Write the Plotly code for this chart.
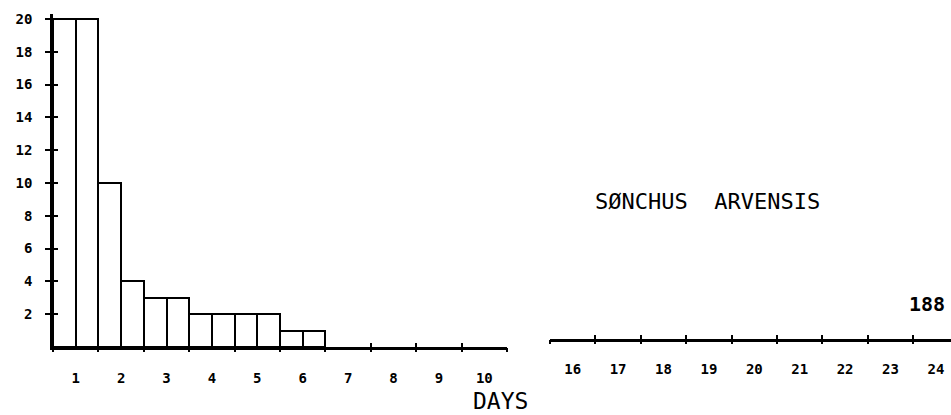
import plotly.graph_objects as go

# ---- data ----
half_day_counts = [20, 20, 10, 4, 3, 3, 2, 2, 2, 2, 1, 1]   # successive half-day periods from day 1
left_days = [1, 2, 3, 4, 5, 6, 7, 8, 9, 10]
right_days = [16, 17, 18, 19, 20, 21, 22, 23, 24]
right_counts = [0, 0, 0, 0, 0, 0, 0, 0, 0]
y_ticks = [2, 4, 6, 8, 10, 12, 14, 16, 18, 20]
species_label = "SØNCHUS  ARVENSIS"
total_label = "188"
x_title = "DAYS"

# ---- geometry (pixels of the 951x415 page) ----
W, H = 951, 415
ML, MT, MB, MR = 53, 14, 68, 0
PW = W - ML - MR
PH = H - MT - MB
left_end_px, right_start_px = 507, 550
D1 = (left_end_px - ML) / PW
D2 = (right_start_px - ML) / PW
day_px = (left_end_px - ML) / len(left_days)
right_hi = right_days[0] - 0.5 + (W - right_start_px) / day_px
Y_TOP = 20.3
shift = 8 / PH

half = 0.5
bar_x = [left_days[0] - 0.5 + half * (i + 0.5) for i in range(len(half_day_counts))]
left_bounds = [d - 0.5 for d in left_days] + [left_days[-1] + 0.5]
right_bounds = [d - 0.5 for d in right_days] + [right_days[-1] + 0.5]

tick_font = dict(family="DejaVu Sans Mono", size=14, color="black", weight="bold")

fig = go.Figure()
fig.add_trace(go.Bar(
    x=bar_x, y=half_day_counts, width=half,
    marker=dict(color="white", line=dict(color="black", width=2)),
    xaxis="x", yaxis="y", hoverinfo="x+y", showlegend=False,
))
fig.add_trace(go.Bar(
    x=right_days, y=right_counts,
    marker=dict(color="white", line=dict(color="black", width=0)),
    xaxis="x2", yaxis="y2", hoverinfo="skip", showlegend=False,
))
# empty traces so that the overlay tick axes are drawn
for xa, ya in [("x3", "y"), ("x4", "y"), ("x5", "y2"), ("x6", "y2"), ("x", "y3")]:
    fig.add_trace(go.Scatter(x=[None], y=[None], xaxis=xa, yaxis=ya, mode="markers",
                             hoverinfo="skip", showlegend=False))

common = dict(showgrid=False, zeroline=False, fixedrange=True, automargin=False)


def tick_axis(over, anchor, rng, vals, side_ticks):
    return dict(overlaying=over, anchor=anchor, range=rng, tickmode="array", tickvals=vals,
                ticks=side_ticks, ticklen=4, tickwidth=2, tickcolor="black",
                showticklabels=False, showline=False, **common)


left_rng = [left_days[0] - 0.5, left_days[-1] + 0.5]
right_rng = [right_days[0] - 0.5, right_hi]

fig.update_layout(
    width=W, height=H,
    margin=dict(l=ML, r=MR, t=MT, b=MB, pad=0, autoexpand=False),
    paper_bgcolor="white", plot_bgcolor="white",
    bargap=0, showlegend=False,
    xaxis=dict(domain=[0, D1], range=left_rng, anchor="y",
               showline=True, linewidth=2.5, linecolor="black",
               tickmode="array", tickvals=left_days, ticktext=[str(d) for d in left_days],
               ticks="", ticklabelstandoff=16, tickfont=tick_font, **common),
    xaxis3=tick_axis("x", "y", left_rng, left_bounds, "outside"),
    xaxis4=tick_axis("x", "y", left_rng, left_bounds, "inside"),
    xaxis2=dict(domain=[D2, 1], range=right_rng, anchor="y2",
                showline=True, linewidth=2.5, linecolor="black",
                tickmode="array", tickvals=right_days, ticktext=[str(d) for d in right_days],
                ticks="", ticklabelstandoff=15, tickfont=tick_font, **common),
    xaxis5=tick_axis("x2", "y2", right_rng, right_bounds, "outside"),
    xaxis6=tick_axis("x2", "y2", right_rng, right_bounds, "inside"),
    yaxis=dict(domain=[0, 1], range=[0, Y_TOP], anchor="x",
               showline=True, linewidth=2.5, linecolor="black",
               tickmode="array", tickvals=y_ticks, ticktext=[str(v) for v in y_ticks],
               ticks="outside", ticklen=5, tickwidth=2, tickcolor="black",
               ticklabelstandoff=10, tickfont=tick_font, **common),
    yaxis3=dict(overlaying="y", anchor="x", range=[0, Y_TOP],
                tickmode="array", tickvals=[0] + y_ticks, ticks="inside", ticklen=5, tickwidth=2,
                tickcolor="black", showticklabels=False, showline=False, **common),
    yaxis2=dict(domain=[shift, 1], range=[0, Y_TOP * (1 - shift)], anchor="x2",
                visible=False, fixedrange=True),
)

ann_font = dict(family="DejaVu Sans Mono", color="black")


def px_ann(text, px, py, font):
    fig.add_annotation(text=text, xref="paper", yref="paper",
                       x=(px - ML) / PW, y=(MT + PH - py) / PH,
                       xanchor="center", yanchor="middle", showarrow=False, font=font)


px_ann(x_title, 500, 401, dict(size=23, **ann_font))
px_ann(species_label, 707, 202, dict(size=22, **ann_font))
px_ann(total_label, 927, 304, dict(size=20, weight="bold", **ann_font))

fig.write_html("out.html", config={"displayModeBar": False},
               post_script="document.body.style.margin='0';document.body.style.overflow='hidden';")
